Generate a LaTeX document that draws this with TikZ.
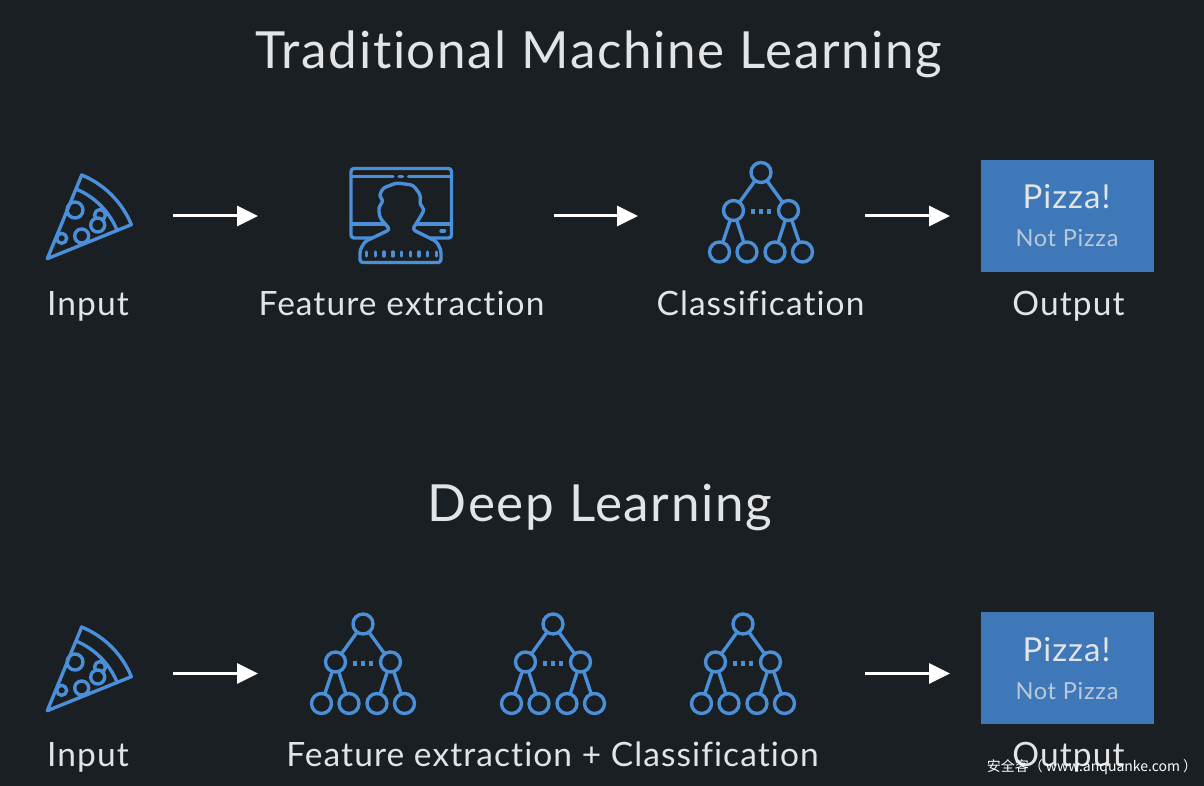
\documentclass[tikz,border=0pt]{standalone}
\usepackage{fontspec}
\setmainfont{Lato}[Ligatures=NoCommon,LetterSpace=3.2]
\newfontfamily\cjkfont{Noto Sans CJK SC}
\usetikzlibrary{arrows.meta}
\definecolor{bgdark}{HTML}{191F23}
\definecolor{iconblue}{HTML}{4A8FD8}
\definecolor{boxblue}{HTML}{3F78B8}
\definecolor{lighttext}{HTML}{E2E4E6}
\tikzset{
    title/.style={text=lighttext, anchor=base, font=\fontsize{51.2}{56}\selectfont},
    caption/.style={text=lighttext, anchor=base, font=\fontsize{33.5}{38}\selectfont},
    flow/.style={white, line width=3pt, -{Triangle[length=21pt,width=20pt]}},
    icon/.style={iconblue, line width=3.4pt, line join=round, line cap=round},
    treenode/.style={circle, draw=iconblue, line width=3.4pt, minimum size=20pt, inner sep=0pt},
    outbox/.style={fill=boxblue, draw=none, minimum width=173pt, minimum height=112pt, inner sep=0pt},
    treeicon/.pic={
        \node[treenode] (-top) at (0,0) {};
        \node[treenode] (-l) at (-27.5,38) {};
        \node[treenode] (-r) at (27.5,38) {};
        \node[treenode] (-a) at (-41.5,79.5) {};
        \node[treenode] (-b) at (-14,79.5) {};
        \node[treenode] (-c) at (14,79.5) {};
        \node[treenode] (-d) at (41.5,79.5) {};
        \draw[icon] (-top) -- (-l) (-top) -- (-r);
        \draw[icon] (-l) -- (-a) (-l) -- (-b) (-r) -- (-c) (-r) -- (-d);
        \foreach \dotx in {-8,0,8}
            \fill[iconblue] (\dotx-1.75,36.5) rectangle ++(3.5,5);
    },
    pizzaicon/.pic={
        \draw[icon] (0,0) -- (34.4,-83.7) arc[start angle=67.7,end angle=22.3,radius=91pt] -- cycle;
        \draw[icon] (29.4,-69.4) arc[start angle=67,end angle=22.3,radius=75.4pt];
        \draw[icon] (27.7,-48.7) circle[radius=8pt];
        \draw[icon] (14.4,-20.4) circle[radius=5pt];
        \draw[icon] (34.4,-22.7) circle[radius=7pt];
        \draw[icon] (52.7,-43.7) circle[radius=5.5pt];
        \draw[icon, fill=bgdark] (50.4,-33.7) circle[radius=7pt];
    },
}
\begin{document}
\begin{tikzpicture}[x=1pt,y=-1pt]
    \fill[bgdark] (0,0) rectangle (1204,786);
    \useasboundingbox (0,0) rectangle (1204,786);

    \node[title] (titleml) at (599,69) {Traditional Machine Learning};
    \node[title] (titledl) at (600,521) {Deep Learning};

    \pic at (47.3,258.7) {pizzaicon};
    \pic at (47.3,710.7) {pizzaicon};

    % monitor
    \draw[icon, rounded corners=3pt] (351,168.5) rectangle (451.5,238);
    \draw[icon] (351,176.5) -- (393,176.5) (408.5,176.5) -- (451.5,176.5);
    \draw[icon] (399,176.5) -- (402.5,176.5);
    \draw[icon] (351,224) -- (385,224) (418,224) -- (451.5,224);
    \draw[icon] (441,231) -- (444.5,231);
    \draw[icon, fill=bgdark, rounded corners=3pt] (390,229.5) -- (380,218) -- (378.5,208) -- (383.5,200) -- (379,196.5)
        -- (383,188) -- (396.5,183) -- (413,185) -- (420.5,195) -- (420,205) -- (424.5,209) -- (421.5,215) -- (412.5,229.5)
        -- (436.5,241.5) -- (441,250) -- (441,262.5) -- (360,262.5) -- (360,250) -- (365,241.5) -- cycle;
    \foreach \slotx in {0,...,8}
        \draw[icon] (366.7+\slotx*8.7,252) -- ++(0,4);

    \pic (treea) at (761,172.5) {treeicon};
    \pic (treeb) at (363,624) {treeicon};
    \pic (treec) at (553,624) {treeicon};
    \pic (treed) at (743,624) {treeicon};

    \node[outbox] (outa) at (1067,216) {};
    \node[outbox] (outb) at (1067,668) {};
    \foreach \boxname in {outa,outb} {
        \node[text=lighttext, anchor=base, font=\fontsize{33}{38}\selectfont] (\boxname p) at ([xshift=-0.5pt,yshift=7pt]\boxname.center) {Pizza!};
        \node[text=lighttext!75!boxblue, anchor=base, font=\fontsize{23.5}{26}\selectfont] (\boxname n) at ([yshift=-31pt]\boxname.center) {Not Pizza};
    }

    \node[caption] (inputa) at (88,315) {Input};
    \node[caption] (feata) at (401.5,315) {Feature extraction};
    \node[caption] (classa) at (760.5,315) {Classification};
    \node[caption] (outputa) at (1068.5,315) {Output};
    \node[caption] (inputb) at (88,766) {Input};
    \node[caption] (featb) at (552.5,766) {Feature extraction + Classification};
    \node[caption] (outputb) at (1068.5,766) {Output};

    \coordinate (a1) at (173,216);
    \coordinate (a2) at (258,216);
    \coordinate (b1) at (554,216);
    \coordinate (b2) at (638,216);
    \coordinate (c1) at (865,216);
    \coordinate (c2) at (950,216);
    \coordinate (d1) at (173,673.5);
    \coordinate (d2) at (258,673.5);
    \coordinate (e1) at (865,673.5);
    \coordinate (e2) at (950,673.5);
    \draw[flow] (a1) -- (a2);
    \draw[flow] (b1) -- (b2);
    \draw[flow] (c1) -- (c2);
    \draw[flow] (d1) -- (d2);
    \draw[flow] (e1) -- (e2);

    \node[white, font=\fontsize{14}{16}\selectfont\cjkfont] (mark) at (1092,767) {安全客（ www.anquanke.com ）};
\end{tikzpicture}
\end{document}
